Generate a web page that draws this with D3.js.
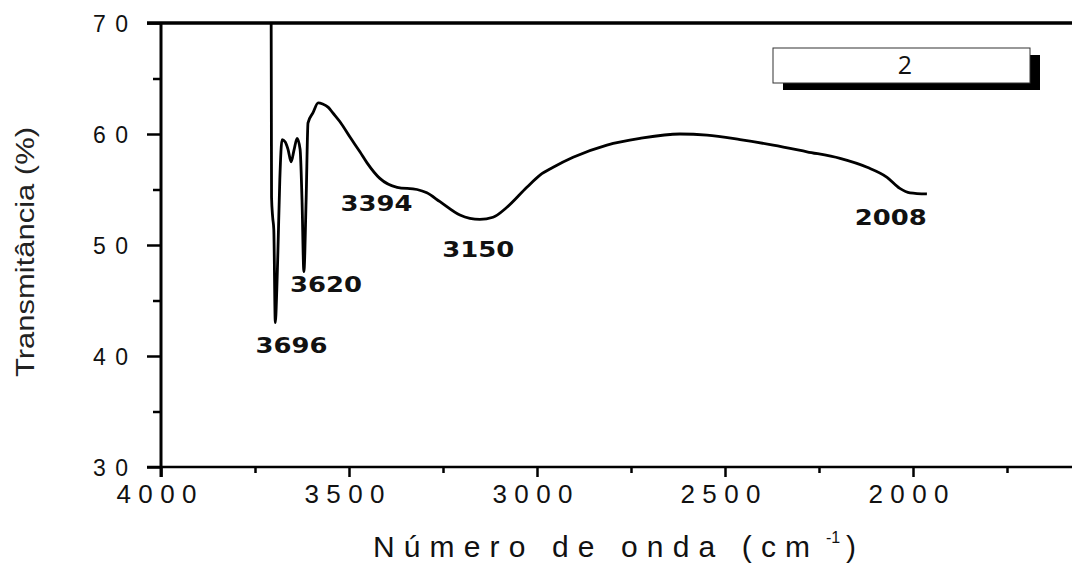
<!DOCTYPE html>
<html>
<head>
<meta charset="utf-8">
<script src="https://cdn.jsdelivr.net/npm/d3@7"></script>
<style>
  body { margin: 0; background: #fff; }
  svg { display: block; }
</style>
</head>
<body>
<svg id="chart" width="1072" height="565"></svg>
<script>
// spectrum
var wavenumber = [3707, 3706, 3703, 3700, 3696, 3692, 3689, 3684, 3678, 3670, 3662, 3654, 3646, 3638, 3630, 3625, 3620, 3614, 3609, 3596, 3582, 3570, 3555, 3543, 3524, 3497, 3471, 3452, 3418, 3372, 3319, 3293, 3258, 3205, 3152, 3117, 3080, 3027, 2992, 2957, 2904, 2814, 2726, 2620, 2548, 2460, 2372, 2282, 2194, 2122, 2069, 2035, 2008, 1963];
var transmit = [70, 54.3, 52.5, 51.4, 43.0, 46.0, 49.5, 55.9, 59.5, 59.3, 58.6, 57.5, 58.6, 59.6, 58.6, 54.1, 47.6, 54.1, 61.0, 61.9, 62.8, 62.7, 62.4, 61.9, 61.1, 59.7, 58.4, 57.4, 56.0, 55.2, 55.0, 54.7, 53.9, 52.7, 52.3, 52.5, 53.4, 55.2, 56.3, 57.0, 57.9, 59.0, 59.6, 60.0, 59.9, 59.5, 59.0, 58.4, 57.8, 57.0, 56.1, 55.1, 54.7, 54.6];

var peakNames = ["3696", "3620", "3394", "3150", "2008"];
var peakLabelX = [3653, 3561, 3427, 3156, 2059];
var peakLabelY = [40.3, 45.8, 53.1, 48.9, 51.8];

var xMajor = [4000, 3500, 3000, 2500, 2000];
var xMinor = [3750, 3250, 2750, 2250, 1750];
var yMajor = [30, 40, 50, 60, 70];
var yMinor = [35, 45, 55, 65];
var legendText = "2";

var W = 1072, H = 565;
var plotLeft = 161, plotTop = 23, plotBottom = 467;

var svg = d3.select("#chart");

var x = d3.scaleLinear().domain([4000, 1500]).range([plotLeft, plotLeft + 2500 * 0.376]);
var y = d3.scaleLinear().domain([30, 70]).range([plotBottom, plotTop]);

svg.append("defs").append("clipPath").attr("id", "clip")
  .append("rect").attr("x", plotLeft).attr("y", plotTop - 2).attr("width", W - plotLeft).attr("height", plotBottom - plotTop + 2);

// frame lines
svg.append("line").attr("x1", 147).attr("x2", W).attr("y1", plotTop).attr("y2", plotTop)
  .attr("stroke", "#000").attr("stroke-width", 3.5);
svg.append("line").attr("x1", 147).attr("x2", W).attr("y1", plotBottom).attr("y2", plotBottom)
  .attr("stroke", "#000").attr("stroke-width", 2.5);
svg.append("line").attr("x1", plotLeft).attr("x2", plotLeft).attr("y1", plotTop).attr("y2", plotBottom + 10)
  .attr("stroke", "#000").attr("stroke-width", 3);

// x axis
var xMin = svg.append("g").attr("transform", "translate(0," + plotBottom + ")")
  .call(d3.axisBottom(x).tickValues(xMinor).tickSize(6).tickFormat(""));
var xMaj = svg.append("g").attr("transform", "translate(0," + plotBottom + ")")
  .call(d3.axisBottom(x).tickValues(xMajor).tickSize(10).tickFormat(d3.format("d")));

// y axis
var yMin = svg.append("g").attr("transform", "translate(" + plotLeft + ",0)")
  .call(d3.axisLeft(y).tickValues(yMinor).tickSize(8).tickFormat(""));
var yMaj = svg.append("g").attr("transform", "translate(" + plotLeft + ",0)")
  .call(d3.axisLeft(y).tickValues(yMajor).tickSize(14).tickFormat(d3.format("d")));

[xMin, xMaj, yMin, yMaj].forEach(g => {
  g.select(".domain").remove();
  g.selectAll("line").attr("stroke", "#000").attr("stroke-width", 2.5);
});

xMaj.selectAll("text")
  .attr("y", 36).attr("dy", 0).attr("dx", -5)
  .attr("font-family", "Liberation Sans, Arial, sans-serif")
  .attr("font-size", 26).attr("fill", "#111")
  .attr("textLength", 80).attr("lengthAdjust", "spacing");

yMaj.selectAll("text")
  .attr("x", -33).attr("dy", "0.36em")
  .attr("font-family", "Liberation Sans, Arial, sans-serif")
  .attr("font-size", 23).attr("fill", "#111")
  .attr("textLength", 35).attr("lengthAdjust", "spacing");

// axis titles
svg.append("text")
  .attr("transform", "translate(34,252) rotate(-90)")
  .attr("text-anchor", "middle")
  .attr("font-family", "Liberation Sans, Arial, sans-serif")
  .attr("font-size", 25).attr("fill", "#222")
  .attr("textLength", 250).attr("lengthAdjust", "spacingAndGlyphs")
  .text("Transmitância (%)");

svg.append("text")
  .attr("x", 373).attr("y", 557)
  .attr("font-family", "Liberation Sans, Arial, sans-serif")
  .attr("font-size", 30).attr("fill", "#111")
  .attr("textLength", 437).attr("lengthAdjust", "spacing")
  .text("Número de onda (cm");
svg.append("text")
  .attr("x", 826).attr("y", 543)
  .attr("font-family", "Liberation Sans, Arial, sans-serif")
  .attr("font-size", 16).attr("fill", "#111")
  .text("-1");
svg.append("text")
  .attr("x", 846).attr("y", 557)
  .attr("font-family", "Liberation Sans, Arial, sans-serif")
  .attr("font-size", 30).attr("fill", "#111")
  .text(")");

// spectrum
var line = d3.line()
  .x((d, i) => x(wavenumber[i]))
  .y(d => y(d))
  .curve(d3.curveMonotoneX);

svg.append("path")
  .datum(transmit)
  .attr("clip-path", "url(#clip)")
  .attr("fill", "none")
  .attr("stroke", "#000")
  .attr("stroke-width", 2.8)
  .attr("stroke-linejoin", "round")
  .attr("d", line);

// peak labels
svg.append("g").selectAll("text")
  .data(peakNames)
  .enter()
  .append("text")
  .attr("x", (d, i) => x(peakLabelX[i]))
  .attr("y", (d, i) => y(peakLabelY[i]))
  .attr("text-anchor", "middle")
  .attr("font-family", "DejaVu Sans, Verdana, sans-serif")
  .attr("font-weight", "bold")
  .attr("font-size", 21)
  .attr("fill", "#111")
  .attr("textLength", 72).attr("lengthAdjust", "spacingAndGlyphs")
  .text(d => d);

// legend box with shadow
var lg = svg.append("g");
lg.append("rect").attr("x", 783).attr("y", 55).attr("width", 257).attr("height", 35).attr("fill", "#000");
lg.append("rect").attr("x", 773).attr("y", 48).attr("width", 257).attr("height", 35)
  .attr("fill", "#fff").attr("stroke", "#333").attr("stroke-width", 1);
lg.append("text")
  .attr("x", 905).attr("y", 74)
  .attr("text-anchor", "middle")
  .attr("font-family", "Open Sans, DejaVu Sans, sans-serif")
  .attr("font-size", 25).attr("fill", "#111")
  .text(legendText);
</script>
</body>
</html>
